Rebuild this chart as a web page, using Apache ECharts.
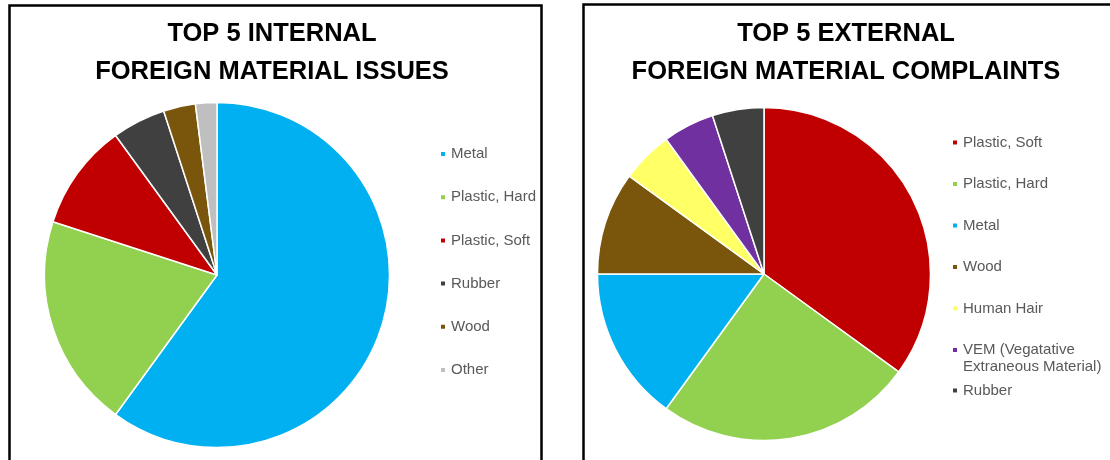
<!DOCTYPE html>
<html>
<head>
<meta charset="utf-8">
<script src="https://cdn.jsdelivr.net/npm/echarts@6/dist/echarts.min.js"></script>
<style>
html,body{margin:0;padding:0;background:#fff;}
#chart{width:1110px;height:460px;}
</style>
</head>
<body>
<div id="chart"></div>
<script>
// ---- Data ----
const internalTitle = 'TOP 5 INTERNAL\nFOREIGN MATERIAL ISSUES';
const internalNames = ['Metal', 'Plastic, Hard', 'Plastic, Soft', 'Rubber', 'Wood', 'Other'];
const internalValues = [60, 20, 10, 5, 3, 2];

const externalTitle = 'TOP 5 EXTERNAL\nFOREIGN MATERIAL COMPLAINTS';
const externalNames = ['Plastic, Soft', 'Plastic, Hard', 'Metal', 'Wood', 'Human Hair', 'VEM (Vegatative Extraneous Material)', 'Rubber'];
const externalValues = [35, 25, 15, 10, 5, 5, 5];

const colorByName = {
  'Metal': '#00B0F0',
  'Plastic, Hard': '#92D050',
  'Plastic, Soft': '#C00000',
  'Rubber': '#404040',
  'Wood': '#7A560C',
  'Other': '#BFBFBF',
  'Human Hair': '#FFFF66',
  'VEM (Vegatative Extraneous Material)': '#7030A0'
};

const FONT = 'Arial, "Liberation Sans", sans-serif';

function toData(names, values) {
  return names.map((n, i) => ({ name: n, value: values[i], itemStyle: { color: colorByName[n] } }));
}

const legendText = { color: '#595959', fontSize: 15, fontFamily: FONT, lineHeight: 18 };
const legendBase = {
  orient: 'vertical', icon: 'rect', itemWidth: 6, itemHeight: 6,
  padding: 0, selectedMode: false, textStyle: legendText
};

const vemName = externalNames[5];

const option = {
  backgroundColor: '#fff',
  animation: false,
  graphic: [
    { type: 'rect', shape: { x: 9.5, y: 5.5, width: 532, height: 520 }, style: { fill: 'none', stroke: '#000', lineWidth: 2.5 } },
    { type: 'rect', shape: { x: 583.5, y: 4.5, width: 600, height: 520 }, style: { fill: 'none', stroke: '#000', lineWidth: 2.5 } },
    { type: 'text', x: 272, y: 15, style: { text: internalTitle, align: 'center', verticalAlign: 'top', fontSize: 25.5, fontWeight: 'bold', fontFamily: FONT, lineHeight: 38, fill: '#000' } },
    { type: 'text', x: 846, y: 15, style: { text: externalTitle, align: 'center', verticalAlign: 'top', fontSize: 25.5, fontWeight: 'bold', fontFamily: FONT, lineHeight: 38, fill: '#000' } }
  ],
  legend: [
    Object.assign({}, legendBase, { data: internalNames, left: 439, top: 145, itemGap: 25.2 }),
    Object.assign({}, legendBase, { data: externalNames.slice(0, 5), left: 951, top: 133.5, itemGap: 23.5 }),
    Object.assign({}, legendBase, {
      data: [vemName], left: 951, top: 324.5,
      textStyle: Object.assign({}, legendText, { lineHeight: 17 }),
      formatter: function () { return '\nVEM (Vegatative\nExtraneous Material)'; }
    }),
    Object.assign({}, legendBase, { data: [externalNames[6]], left: 951, top: 381.5 })
  ],
  series: [
    {
      type: 'pie', center: [217, 275], radius: 172.5, startAngle: 90, clockwise: true,
      label: { show: false }, labelLine: { show: false },
      emphasis: { scale: false },
      itemStyle: { borderColor: '#fff', borderWidth: 1.5 },
      data: toData(internalNames, internalValues)
    },
    {
      type: 'pie', center: [764, 274], radius: 166.5, startAngle: 90, clockwise: true,
      label: { show: false }, labelLine: { show: false },
      emphasis: { scale: false },
      itemStyle: { borderColor: '#fff', borderWidth: 1.5 },
      data: toData(externalNames, externalValues)
    }
  ]
};

const chart = echarts.init(document.getElementById('chart'), null, { renderer: 'canvas' });
chart.setOption(option);
</script>
</body>
</html>
